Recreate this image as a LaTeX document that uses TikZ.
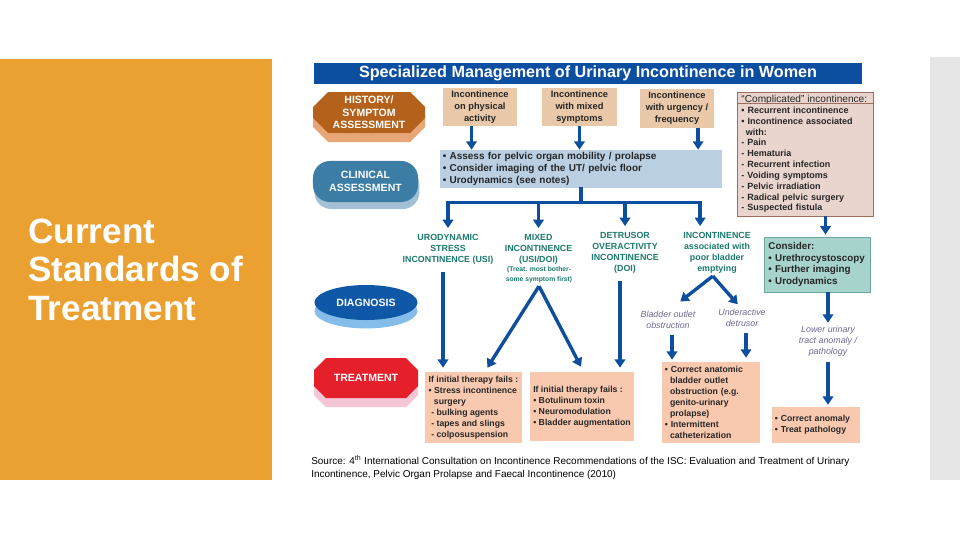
\documentclass[tikz,border=0pt]{standalone}
\usepackage{fontspec}
\setmainfont{Liberation Sans}
\usetikzlibrary{arrows.meta,positioning,calc,shapes.geometric,shadows}

\definecolor{panelorange}{HTML}{EBA131}
\definecolor{panelgray}{HTML}{E6E6E6}
\definecolor{titleblue}{HTML}{0C4EA0}
\definecolor{arrowblue}{HTML}{0D4F9C}
\definecolor{histbrown}{HTML}{B4611C}
\definecolor{histshade}{HTML}{E8A676}
\definecolor{clinblue}{HTML}{3C7DA5}
\definecolor{clinshade}{HTML}{A3C0D4}
\definecolor{diagblue}{HTML}{0E58A7}
\definecolor{diagshade}{HTML}{85BDEA}
\definecolor{treatred}{HTML}{E5202B}
\definecolor{treatshade}{HTML}{F5C6D6}
\definecolor{tanfill}{HTML}{EAC8AA}
\definecolor{cmpfill}{HTML}{E9D5CD}
\definecolor{cmpdraw}{HTML}{9E6E5E}
\definecolor{lbfill}{HTML}{BACFE2}
\definecolor{csfill}{HTML}{A6D3CC}
\definecolor{csdraw}{HTML}{6CA89D}
\definecolor{txfill}{HTML}{F9C9AF}
\definecolor{dxteal}{HTML}{1C7A6C}
\definecolor{italpurple}{HTML}{6D6890}
\definecolor{bodytext}{HTML}{262626}

\newcommand\boxfont{\fontsize{6.6}{8.5}\selectfont\bfseries}
\newcommand\stagefont{\fontsize{7.5}{8.9}\selectfont\bfseries}
\newcommand\dxfont{\fontsize{6.3}{7.8}\selectfont\bfseries}
\newcommand\notefont{\fontsize{4.8}{7}\selectfont\bfseries}
\newcommand\italfont{\fontsize{6.3}{7.7}\selectfont\itshape}
\newcommand\txfont{\fontsize{6.2}{7.8}\selectfont\bfseries}
\newcommand\cmpfont{\fontsize{6.4}{7.7}\selectfont\bfseries}
% octagon: colour, x1, y1, x2, y2, chamfer
\newcommand\octo[6]{\fill[#1] (#2+#6,#3) -- (#4-#6,#3) -- (#4,#3+#6) -- (#4,#5-#6) -- (#4-#6,#5) -- (#2+#6,#5) -- (#2,#5-#6) -- (#2,#3+#6) -- cycle;}

\begin{document}
\begin{tikzpicture}[x=0.025cm, y=-0.025cm,
  every node/.style={align=center, inner sep=0pt, text=bodytext},
  arr/.style={draw=arrowblue, line width=2.4pt, -{Triangle[width=7.5pt,length=6pt]}},
  trunk/.style={draw=arrowblue, line width=2.4pt, line cap=rect},
  stage/.style={text=white, font=\stagefont},
  tanbox/.style={fill=tanfill, font=\boxfont, minimum width=1.85cm, minimum height=0.95cm},
  dx/.style={text=dxteal, font=\dxfont},
  ital/.style={text=italpurple, font=\italfont},
  txbox/.style={fill=txfill, font=\txfont, align=left, inner xsep=2pt}]
  \useasboundingbox (0,0) rectangle (960,540);
  \fill[panelorange] (0,59) rectangle (272,480);
  \fill[panelgray] (930,57) rectangle (960,480);
  \node[anchor=base west, align=left, text=white, font=\fontsize{25}{27.3}\selectfont\bfseries] (slide) at (28,320) {Current\\Standards of\\Treatment};

  \node[fill=titleblue, text=white, font=\fontsize{11.5}{13}\selectfont\bfseries, minimum width=13.7cm, minimum height=0.525cm] (hd) at (588,73.5) {Specialized Management of Urinary Incontinence in Women};

  \octo{histshade}{313}{101}{425}{142}{15}
  \octo{histbrown}{313}{92}{425}{133}{15}
  \node[stage] (hist) at (369,112.5) {HISTORY/\\SYMPTOM\\ASSESSMENT};
  \node[stage, fill=clinblue, rounded corners=12pt, minimum width=2.625cm, minimum height=1.025cm,
    drop shadow={fill=clinshade, shadow xshift=1pt, shadow yshift=-5pt, opacity=1}] (clin) at (365.5,181.5) {CLINICAL\\ASSESSMENT};
  \node[stage, ellipse, fill=diagblue, minimum width=2.575cm, minimum height=0.875cm,
    drop shadow={fill=diagshade, shadow xshift=0pt, shadow yshift=-6pt, opacity=1}] (diag) at (366,302.5) {DIAGNOSIS};
  \octo{treatshade}{314}{367}{418}{407}{12}
  \octo{treatred}{314}{358}{418}{398}{12}
  \node[stage] (treat) at (366,378) {TREATMENT};

  \node[tanbox] (phys) at (480,107) {Incontinence\\on physical\\activity};
  \node[tanbox] (mixs) at (579.5,107) {Incontinence\\with mixed\\symptoms};
  \node[tanbox] (urg) at (677,108.5) {Incontinence\\with urgency /\\frequency};
  \node[fill=cmpfill, draw=cmpdraw, line width=0.6pt, align=left, font=\cmpfont, text width=3.2cm, inner xsep=3pt, minimum height=3.1cm] (cmp) at (805.5,154)
    {{\fontsize{7.2}{7.7}\selectfont\mdseries “Complicated” incontinence:}\\
     • Recurrent incontinence\\
     • Incontinence associated\\
     \hspace*{0.5em}with:\\
     - Pain\\
     - Hematuria\\
     - Recurrent infection\\
     - Voiding symptoms\\
     - Pelvic irradiation\\
     - Radical pelvic surgery\\
     - Suspected fistula};
  \draw[cmpdraw, line width=0.6pt] ($(cmp.north west)+(0,12)$) -- ($(cmp.north east)+(0,12)$);

  \node[fill=lbfill, align=left, font=\fontsize{7.1}{8.5}\selectfont\bfseries, text width=6.91cm, inner xsep=2pt, minimum height=0.95cm] (lb) at (581,169)
    {• Assess for pelvic organ mobility / prolapse\\
     • Consider imaging of the UT/ pelvic floor\\
     • Urodynamics (see notes)};
  \node[fill=csfill, draw=csdraw, line width=0.6pt, align=left, font=\fontsize{7}{8.3}\selectfont\bfseries, text width=2.45cm, inner xsep=3pt, minimum height=1.375cm] (cs) at (817.5,264.5)
    {Consider:\\• Urethrocystoscopy\\• Further imaging\\• Urodynamics};

  \draw[arr] ([xshift=-6pt]phys.south) -- ([xshift=-6pt]phys.south |- lb.north);
  \draw[arr] (mixs.south) -- (mixs.south |- lb.north);
  \draw[arr] ([xshift=15pt]urg.south) -- ([xshift=15pt]urg.south |- lb.north);
  \draw[arr] ($(cmp.south)+(20,0)$) -- ($(cmp.south |- cs.north)+(20,-2)$);

  \node[dx] (d1) at (448,249) {URODYNAMIC\\STRESS\\INCONTINENCE (USI)};
  \node[dx] (d2) at (538.5,249) {MIXED\\INCONTINENCE\\(USI/DOI)};
  \node[dx, font=\notefont] (note) at (539,275) {(Treat. most bother-\\some symptom first)};
  \node[dx] (d3) at (625,252.5) {DETRUSOR\\OVERACTIVITY\\INCONTINENCE\\(DOI)};
  \node[dx] (d4) at (717,252.5) {INCONTINENCE\\associated with\\poor bladder\\emptying};

  \coordinate (fork) at ($(lb.south)+(0,14)$);
  \draw[trunk] (lb.south) -- (fork);
  \draw[trunk] (fork -| d1.north) -- ([xshift=-12pt]fork -| d4.north);
  \foreach \n/\s in {d1/0,d2/0,d3/0,d4/-12}
    \draw[arr] ([xshift=\s pt]fork -| \n.north) -- ([xshift=\s pt, yshift=4pt]\n.north);

  \node[ital] (bo) at (668,320) {Bladder outlet\\obstruction};
  \node[ital] (ud) at (742,318) {Underactive\\detrusor};
  \node[ital] (lu) at (828,341) {Lower urinary\\tract anomaly /\\pathology};

  \node[txbox, minimum width=2.425cm, minimum height=1.775cm] (t1) at (473.5,407.5)
    {If initial therapy fails :\\• Stress incontinence\\\hspace*{0.6em}surgery\\\hspace*{0.3em}- bulking agents\\\hspace*{0.3em}- tapes and slings\\\hspace*{0.3em}- colposuspension};
  \node[txbox, minimum width=2.6cm, minimum height=1.725cm] (t2) at (582,406.5)
    {If initial therapy fails :\\• Botulinum toxin\\• Neuromodulation\\• Bladder augmentation};
  \node[txbox, text width=2.31cm, minimum height=2.025cm] (t3) at (711,402.5)
    {• Correct anatomic\\\hspace*{0.6em}bladder outlet\\\hspace*{0.6em}obstruction (e.g.\\\hspace*{0.6em}genito-urinary\\\hspace*{0.6em}prolapse)\\• Intermittent\\\hspace*{0.6em}catheterization};
  \node[txbox, text width=2.06cm, minimum height=0.9cm] (t4) at (816,425)
    {• Correct anomaly\\• Treat pathology};

  \coordinate (mx) at ([yshift=-2pt]note.south);
  \coordinate (pe) at ([xshift=-3pt, yshift=-2pt]d4.south);
  \draw[arr] ($(d1.south)+(-5,8)$) -- ($(d1.south |- t1.north)+(-5,-4)$);
  \draw[arr] (mx) -- ($(t1.north east)+(-35,-4)$);
  \draw[arr] (mx) -- ($(t2.north)+(-1,-5)$);
  \draw[arr] ($(d3.south)+(-5,8)$) -- ($(d3.south |- t2.north)+(-5,-4)$);
  \draw[arr, shorten >=11pt] (pe) -- (bo.north);
  \draw[arr, shorten >=4.5pt] (pe) -- (ud.north);
  \draw[arr] ($(bo.south)+(4,6)$) -- ($(bo.south |- t3.north)+(4,-2)$);
  \draw[arr] ($(ud.south)+(4,6)$) -- ($(ud.south |- t3.north)+(4,-4)$);
  \draw[arr] (cs.south -| lu.north) -- ($(lu.north)+(0,-3)$);
  \draw[arr] ($(lu.south)+(0,6)$) -- ($(lu.south |- t4.north)+(0,-2)$);

  \node[anchor=north west, align=left, text=black, font=\fontsize{7.1}{9.2}\selectfont] (src) at (311,455)
    {Source: 4\textsuperscript{th} International Consultation on Incontinence Recommendations of the ISC: Evaluation and Treatment of Urinary\\
     Incontinence, Pelvic Organ Prolapse and Faecal Incontinence (2010)};
\end{tikzpicture}
\end{document}
